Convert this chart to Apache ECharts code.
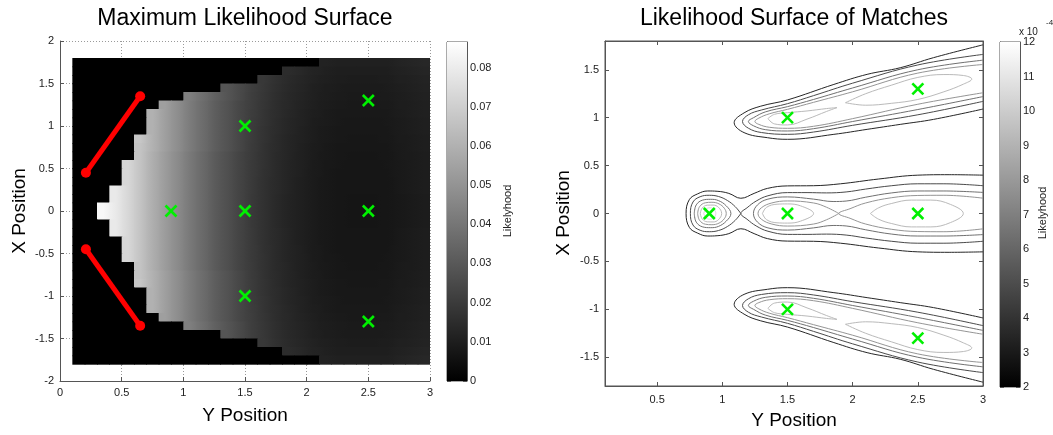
<!DOCTYPE html>
<html><head><meta charset="utf-8">
<script src="https://cdn.jsdelivr.net/npm/echarts@6/dist/echarts.min.js"></script>
<style>html,body{margin:0;padding:0;background:#fff}#c{width:1053px;height:435px}</style>
</head><body><div id="c"></div>
<script>
// ---------------- DATA ----------------
// Left panel: likelihood surface, cell centres (cells are 0.1 x 0.1), values in units of 1e-3
const heatX = [0.15,0.25,0.35,0.45,0.55,0.65,0.75,0.85,0.95,1.05,1.15,1.25,1.35,1.45,1.55,1.65,1.75,1.85,1.95,2.05,2.15,2.25,2.35,2.45,2.55,2.65,2.75,2.85,2.95];
const heatY = [1.75,1.65,1.55,1.45,1.35,1.25,1.15,1.05,0.95,0.85,0.75,0.65,0.55,0.45,0.35,0.25,0.15,0.05,
               -0.05,-0.15,-0.25,-0.35,-0.45,-0.55,-0.65,-0.75,-0.85,-0.95,-1.05,-1.15,-1.25,-1.35,-1.45,-1.55,-1.65,-1.75];
const heatRows = [
[0,0,0,0,0,0,0,0,0,0,0,0,0,0,0,0,0,0,0,0,11.5,10.9,10.7,10.7,10.7,10.9,11.8,12.4,13.1],
[0,0,0,0,0,0,0,0,0,0,0,0,0,0,0,0,0,14.9,13.4,11.9,10.9,10.3,10.1,10.1,10.1,10.3,11.2,11.8,12.5],
[0,0,0,0,0,0,0,0,0,0,0,0,0,0,0,18.9,16.4,14.4,12.9,11.4,10.4,9.8,9.6,9.6,9.6,9.8,10.7,11.3,12],
[0,0,0,0,0,0,0,0,0,0,0,0,29,25,21.5,18.5,16,14,12.5,11,10,9.4,9.2,9.2,9.2,9.4,10.3,10.9,11.6],
[0,0,0,0,0,0,0,0,0,43,38,33,29,25,21.2,18.2,15.7,13.7,12.2,10.7,9.7,9.1,8.9,8.9,8.9,9.1,10,10.6,11.3],
[0,0,0,0,0,0,0,54,48,42,37,32,28,24,20.9,17.9,15.4,13.4,11.9,10.4,9.4,8.8,8.6,8.6,8.6,8.8,9.7,10.3,11],
[0,0,0,0,0,0,60,54,48,42,37,32,28,24,20.7,17.7,15.2,13.2,11.7,10.2,9.2,8.6,8.4,8.4,8.4,8.6,9.5,10.1,10.8],
[0,0,0,0,0,0,60,54,48,42,37,32,28,24,20.5,17.5,15,13,11.5,10,9,8.4,8.2,8.2,8.2,8.4,9.3,9.9,10.6],
[0,0,0,0,0,0,60,54,48,42,37,32,28,24,20.3,17.3,14.8,12.8,11.3,9.8,8.8,8.2,8,8,8,8.2,9.1,9.7,10.4],
[0,0,0,0,0,67,60,54,48,42,37,32,28,24,20.2,17.2,14.7,12.7,11.2,9.7,8.7,8.1,7.9,7.9,7.9,8.1,9,9.6,10.3],
[0,0,0,0,0,66,60,54,48,42,37,32,28,24,20,17,14.5,12.5,11,9.5,8.5,7.9,7.7,7.7,7.7,7.9,8.8,9.4,10.1],
[0,0,0,0,0,66,59,53,47,41,36,31,27,23,19.9,16.9,14.4,12.4,10.9,9.4,8.4,7.8,7.6,7.6,7.6,7.8,8.7,9.3,10],
[0,0,0,0,73,66,59,53,47,41,36,31,27,23,19.8,16.8,14.3,12.3,10.8,9.3,8.3,7.7,7.5,7.5,7.5,7.7,8.6,9.2,9.9],
[0,0,0,0,73,66,59,53,47,41,36,31,27,23,19.7,16.7,14.2,12.2,10.7,9.2,8.2,7.6,7.4,7.4,7.4,7.6,8.5,9.1,9.8],
[0,0,0,0,73,66,59,53,47,41,36,31,27,23,19.6,16.6,14.1,12.1,10.6,9.1,8.1,7.5,7.3,7.3,7.3,7.5,8.4,9,9.7],
[0,0,0,79,73,66,59,53,47,41,36,31,27,23,19.6,16.6,14.1,12.1,10.6,9.1,8.1,7.5,7.3,7.3,7.3,7.5,8.4,9,9.7],
[0,0,0,79,73,66,59,53,47,41,36,31,27,23,19.5,16.5,14,12,10.5,9,8,7.4,7.2,7.2,7.2,7.4,8.3,8.9,9.6],
[0,0,84,79,73,66,59,53,47,41,36,31,27,23,19.5,16.5,14,12,10.5,9,8,7.4,7.2,7.2,7.2,7.4,8.3,8.9,9.6],
[0,0,84,79,73,66,59,53,47,41,36,31,27,23,19.5,16.5,14,12,10.5,9,8,7.4,7.2,7.2,7.2,7.4,8.3,8.9,9.6],
[0,0,0,79,73,66,59,53,47,41,36,31,27,23,19.5,16.5,14,12,10.5,9,8,7.4,7.2,7.2,7.2,7.4,8.3,8.9,9.6],
[0,0,0,79,73,66,59,53,47,41,36,31,27,23,19.6,16.6,14.1,12.1,10.6,9.1,8.1,7.5,7.3,7.3,7.3,7.5,8.4,9,9.7],
[0,0,0,0,73,66,59,53,47,41,36,31,27,23,19.6,16.6,14.1,12.1,10.6,9.1,8.1,7.5,7.3,7.3,7.3,7.5,8.4,9,9.7],
[0,0,0,0,73,66,59,53,47,41,36,31,27,23,19.7,16.7,14.2,12.2,10.7,9.2,8.2,7.6,7.4,7.4,7.4,7.6,8.5,9.1,9.8],
[0,0,0,0,73,66,59,53,47,41,36,31,27,23,19.8,16.8,14.3,12.3,10.8,9.3,8.3,7.7,7.5,7.5,7.5,7.7,8.6,9.2,9.9],
[0,0,0,0,0,66,59,53,47,41,36,31,27,23,19.9,16.9,14.4,12.4,10.9,9.4,8.4,7.8,7.6,7.6,7.6,7.8,8.7,9.3,10],
[0,0,0,0,0,66,60,54,48,42,37,32,28,24,20,17,14.5,12.5,11,9.5,8.5,7.9,7.7,7.7,7.7,7.9,8.8,9.4,10.1],
[0,0,0,0,0,67,60,54,48,42,37,32,28,24,20.2,17.2,14.7,12.7,11.2,9.7,8.7,8.1,7.9,7.9,7.9,8.1,9,9.6,10.3],
[0,0,0,0,0,0,60,54,48,42,37,32,28,24,20.3,17.3,14.8,12.8,11.3,9.8,8.8,8.2,8,8,8,8.2,9.1,9.7,10.4],
[0,0,0,0,0,0,60,54,48,42,37,32,28,24,20.5,17.5,15,13,11.5,10,9,8.4,8.2,8.2,8.2,8.4,9.3,9.9,10.6],
[0,0,0,0,0,0,60,54,48,42,37,32,28,24,20.7,17.7,15.2,13.2,11.7,10.2,9.2,8.6,8.4,8.4,8.4,8.6,9.5,10.1,10.8],
[0,0,0,0,0,0,0,54,48,42,37,32,28,24,20.9,17.9,15.4,13.4,11.9,10.4,9.4,8.8,8.6,8.6,8.6,8.8,9.7,10.3,11],
[0,0,0,0,0,0,0,0,0,43,38,33,29,25,21.2,18.2,15.7,13.7,12.2,10.7,9.7,9.1,8.9,8.9,8.9,9.1,10,10.6,11.3],
[0,0,0,0,0,0,0,0,0,0,0,0,29,25,21.5,18.5,16,14,12.5,11,10,9.4,9.2,9.2,9.2,9.4,10.3,10.9,11.6],
[0,0,0,0,0,0,0,0,0,0,0,0,0,0,0,18.9,16.4,14.4,12.9,11.4,10.4,9.8,9.6,9.6,9.6,9.8,10.7,11.3,12],
[0,0,0,0,0,0,0,0,0,0,0,0,0,0,0,0,0,14.9,13.4,11.9,10.9,10.3,10.1,10.1,10.1,10.3,11.2,11.8,12.5],
[0,0,0,0,0,0,0,0,0,0,0,0,0,0,0,0,0,0,0,0,11.5,10.9,10.7,10.7,10.7,10.9,11.8,12.4,13.1]
];
const heatUnit = 1e-3;
const heatMax = 0.0865;           // top of left colour bar
const leftBarTicks = [0,0.01,0.02,0.03,0.04,0.05,0.06,0.07,0.08];

// Sensor arrays (red segments)
const sensorUpper = [[0.21,0.45],[0.65,1.35]];
const sensorLower = [[0.21,-0.45],[0.65,-1.35]];

// Matches (green crosses)
const matchX = [0.9,1.5,1.5,1.5,2.5,2.5,2.5];
const matchY = [0,1,0,-1,1.3,0,-1.3];

// Right panel colour bar (x 1e-4)
const rightBarMin = 2, rightBarMax = 12;

// Contour lines of right panel, level index 1 (outer) .. 6 (inner)
const midL1 = [[3.0,0.40],[2.74,0.405],[2.5,0.40],[2.2,0.36],[1.907,0.31],[1.7,0.29],[1.5,0.288],[1.346,0.262],[1.244,0.21],[1.142,0.159],[1.05,0.21],[0.96,0.232],[0.888,0.235],[0.811,0.205],[0.747,0.145],[0.722,0],[0.747,-0.145],[0.811,-0.205],[0.888,-0.235],[0.96,-0.232],[1.05,-0.21],[1.142,-0.159],[1.244,-0.21],[1.346,-0.262],[1.5,-0.288],[1.7,-0.29],[1.907,-0.31],[2.2,-0.36],[2.5,-0.40],[2.74,-0.405],[3.0,-0.40]];
const midL2 = [[3.0,0.29],[2.7,0.31],[2.5,0.31],[2.3,0.29],[2.1,0.255],[1.95,0.225],[1.8,0.215],[1.65,0.218],[1.5,0.218],[1.35,0.185],[1.26,0.13],[1.19,0.06],[1.142,0],[1.19,-0.06],[1.26,-0.13],[1.35,-0.185],[1.5,-0.218],[1.65,-0.218],[1.8,-0.215],[1.95,-0.225],[2.1,-0.255],[2.3,-0.29],[2.5,-0.31],[2.7,-0.31],[3.0,-0.29]];
const bulbL2 = [[1.142,0],[1.10,0.07],[1.04,0.135],[0.97,0.178],[0.9,0.19],[0.83,0.175],[0.775,0.12],[0.755,0],[0.775,-0.12],[0.83,-0.175],[0.9,-0.19],[0.97,-0.178],[1.04,-0.135],[1.10,-0.07],[1.142,0]];
const midL3 = [[3.0,0.22],[2.7,0.235],[2.5,0.235],[2.3,0.215],[2.1,0.17],[1.95,0.13],[1.85,0.125],[1.7,0.15],[1.5,0.173],[1.35,0.15],[1.27,0.09],[1.239,0],[1.27,-0.09],[1.35,-0.15],[1.5,-0.173],[1.7,-0.15],[1.85,-0.125],[1.95,-0.13],[2.1,-0.17],[2.3,-0.215],[2.5,-0.235],[2.7,-0.235],[3.0,-0.22]];
const bulbL3 = [[0.785,0],[0.80,0.09],[0.85,0.14],[0.91,0.148],[0.97,0.135],[1.03,0.08],[1.066,0],[1.03,-0.08],[0.97,-0.135],[0.91,-0.148],[0.85,-0.14],[0.80,-0.09],[0.785,0]];
const midL4a = [[1.894,0],[1.8,0.065],[1.7,0.11],[1.5,0.131],[1.38,0.11],[1.3,0.06],[1.274,0],[1.3,-0.06],[1.38,-0.11],[1.5,-0.131],[1.7,-0.11],[1.8,-0.065],[1.894,0]];
const midL4b = [[3.0,0.16],[2.7,0.19],[2.5,0.188],[2.3,0.165],[2.1,0.11],[1.98,0.05],[1.894,0],[1.98,-0.05],[2.1,-0.11],[2.3,-0.165],[2.5,-0.188],[2.7,-0.19],[3.0,-0.16]];
const bulbL4 = [[0.811,0],[0.825,0.07],[0.87,0.112],[0.92,0.117],[0.975,0.1],[1.015,0.055],[1.03,0],[1.015,-0.055],[0.975,-0.1],[0.92,-0.117],[0.87,-0.112],[0.825,-0.07],[0.811,0]];
const midL5a = [[1.308,0],[1.34,0.065],[1.42,0.097],[1.5,0.10],[1.6,0.08],[1.70,0],[1.6,-0.08],[1.5,-0.10],[1.42,-0.097],[1.34,-0.065],[1.308,0]];
const midL5b = [[2.136,0],[2.2,0.06],[2.3,0.105],[2.45,0.14],[2.6,0.14],[2.75,0.095],[2.849,0],[2.75,-0.095],[2.6,-0.14],[2.45,-0.14],[2.3,-0.105],[2.2,-0.06],[2.136,0]];
const bulbL5 = [[0.831,0],[0.845,0.055],[0.885,0.087],[0.93,0.088],[0.97,0.065],[0.995,0],[0.97,-0.065],[0.93,-0.088],[0.885,-0.087],[0.845,-0.055],[0.831,0]];
const bulbL6 = [[0.857,0],[0.875,0.045],[0.905,0.06],[0.935,0.045],[0.95,0],[0.935,-0.045],[0.905,-0.06],[0.875,-0.045],[0.857,0]];

const topL1 = [[3.0,1.76],[2.62,1.626],[2.365,1.521],[2.111,1.452],[1.856,1.347],[1.5,1.185],[1.295,1.12],[1.167,1.05],[1.091,0.948],[1.167,0.844],[1.346,0.791],[1.5,0.774],[1.856,0.826],[2.111,0.878],[2.365,0.93],[2.62,0.982],[3.0,1.09]];
const topL2 = [[3.0,1.66],[2.5,1.55],[2.0,1.36],[1.7,1.23],[1.5,1.146],[1.3,1.08],[1.2,1.03],[1.155,0.96],[1.2,0.89],[1.3,0.845],[1.5,0.826],[1.7,0.85],[2.0,0.92],[2.5,1.03],[3.0,1.17]];
const topL3 = [[3.0,1.60],[2.5,1.50],[2.0,1.31],[1.7,1.19],[1.5,1.115],[1.33,1.06],[1.24,1.0],[1.2,0.96],[1.24,0.915],[1.33,0.875],[1.5,0.861],[1.7,0.885],[2.0,0.96],[2.5,1.085],[3.0,1.22]];
const topL4 = [[3.0,1.555],[2.5,1.465],[2.0,1.27],[1.7,1.16],[1.5,1.087],[1.36,1.04],[1.28,0.995],[1.25,0.96],[1.28,0.93],[1.36,0.9],[1.5,0.889],[1.7,0.91],[2.0,0.99],[2.5,1.14],[3.0,1.26]];
const topL5a = [[1.35,0.99],[1.4,1.035],[1.5,1.052],[1.65,1.07],[1.8,1.095],[1.88,1.105],[1.8,1.065],[1.65,0.985],[1.5,0.924],[1.4,0.935],[1.35,0.99]];
const topL5b = [[1.945,1.156],[2.1,1.25],[2.3,1.34],[2.5,1.42],[2.7,1.45],[2.85,1.44],[2.914,1.403],[2.85,1.35],[2.7,1.27],[2.5,1.19],[2.3,1.15],[2.1,1.13],[1.945,1.156]];

const botL1 = [[3.0,-1.76],[2.62,-1.626],[2.365,-1.521],[2.111,-1.452],[1.856,-1.347],[1.5,-1.185],[1.295,-1.12],[1.167,-1.05],[1.091,-0.948],[1.167,-0.844],[1.346,-0.791],[1.5,-0.774],[1.856,-0.826],[2.111,-0.878],[2.365,-0.93],[2.62,-0.982],[3.0,-1.09]];
const botL2 = [[3.0,-1.66],[2.5,-1.55],[2.0,-1.36],[1.7,-1.23],[1.5,-1.146],[1.3,-1.08],[1.2,-1.03],[1.155,-0.96],[1.2,-0.89],[1.3,-0.845],[1.5,-0.826],[1.7,-0.85],[2.0,-0.92],[2.5,-1.03],[3.0,-1.17]];
const botL3 = [[3.0,-1.60],[2.5,-1.50],[2.0,-1.31],[1.7,-1.19],[1.5,-1.115],[1.33,-1.06],[1.24,-1.0],[1.2,-0.96],[1.24,-0.915],[1.33,-0.875],[1.5,-0.861],[1.7,-0.885],[2.0,-0.96],[2.5,-1.085],[3.0,-1.22]];
const botL4 = [[3.0,-1.555],[2.5,-1.465],[2.0,-1.27],[1.7,-1.16],[1.5,-1.087],[1.36,-1.04],[1.28,-0.995],[1.25,-0.96],[1.28,-0.93],[1.36,-0.9],[1.5,-0.889],[1.7,-0.91],[2.0,-0.99],[2.5,-1.14],[3.0,-1.26]];
const botL5a = [[1.35,-0.99],[1.4,-1.035],[1.5,-1.052],[1.65,-1.07],[1.8,-1.095],[1.88,-1.105],[1.8,-1.065],[1.65,-0.985],[1.5,-0.924],[1.4,-0.935],[1.35,-0.99]];
const botL5b = [[1.945,-1.156],[2.1,-1.25],[2.3,-1.34],[2.5,-1.42],[2.7,-1.45],[2.85,-1.44],[2.914,-1.403],[2.85,-1.35],[2.7,-1.27],[2.5,-1.19],[2.3,-1.15],[2.1,-1.13],[1.945,-1.156]];

const contours = [
  {level:1, pts:midL1},{level:2, pts:midL2},{level:2, pts:bulbL2},{level:3, pts:midL3},{level:3, pts:bulbL3},
  {level:4, pts:midL4a},{level:4, pts:midL4b},{level:4, pts:bulbL4},{level:5, pts:midL5a},{level:5, pts:midL5b},
  {level:5, pts:bulbL5},{level:6, pts:bulbL6},
  {level:1, pts:topL1},{level:2, pts:topL2},{level:3, pts:topL3},{level:4, pts:topL4},{level:5, pts:topL5a},{level:5, pts:topL5b},
  {level:1, pts:botL1},{level:2, pts:botL2},{level:3, pts:botL3},{level:4, pts:botL4},{level:5, pts:botL5a},{level:5, pts:botL5b}
];
const levelColors = ['#262626','#4a4a4a','#707070','#959595','#bababa','#dcdcdc'];

// ---------------- BUILD ----------------
heatRows.forEach((r,i)=>{ if(r.length!==heatX.length) console.error('row length', i, r.length); });
const heatData = [];
heatRows.forEach((row,j)=>row.forEach((v,i)=>heatData.push([heatX[i], heatY[j], v*heatUnit, i, j])));
const cellHalf = (heatX[1]-heatX[0])/2;

function grayOf(v){
  const g = Math.max(0, Math.min(255, Math.round(v/heatMax*255)));
  return 'rgb('+g+','+g+','+g+')';
}
const matchData = matchX.map((x,i)=>[x, matchY[i]]);
function crossItem(params, api){
  const p = api.coord([api.value(0), api.value(1)]); const s = 5.5;
  const st = {stroke:'#00f000', lineWidth:2.6};
  return {type:'group', children:[
    {type:'line', shape:{x1:p[0]-s,y1:p[1]-s,x2:p[0]+s,y2:p[1]+s}, style:st},
    {type:'line', shape:{x1:p[0]-s,y1:p[1]+s,x2:p[0]+s,y2:p[1]-s}, style:st}]};
}
function barItem(params, api){
  const a = api.coord([0, api.value(0)]), b = api.coord([1, api.value(1)]);
  return {type:'rect', shape:{x:a[0], y:b[1], width:b[0]-a[0], height:a[1]-b[1]},
    style:{fill:new echarts.graphic.LinearGradient(0,0,0,1,[{offset:0,color:'#fff'},{offset:1,color:'#000'}])}};
}
function heatItem(params, api){
  const x=api.value(0), y=api.value(1), v=api.value(2), i=api.value(3), j=api.value(4);
  const a=api.coord([x-cellHalf, y+cellHalf]), b=api.coord([x+cellHalf, y-cellHalf]);
  const shape = {x:a[0], y:a[1], width:b[0]-a[0]+0.7, height:b[1]-a[1]+0.7};
  if (v === 0) return {type:'rect', shape:shape, style:{fill:'#000'}};
  const row = heatRows[j];
  const vl = (i>0 && row[i-1]>0) ? (row[i-1]*heatUnit+v)/2 : v;
  const vr = (i<row.length-1 && row[i+1]>0) ? (row[i+1]*heatUnit+v)/2 : v;
  return {type:'rect', shape:shape, style:{fill:new echarts.graphic.LinearGradient(0,0,1,0,[
    {offset:0,color:grayOf(vl)},{offset:0.5,color:grayOf(v)},{offset:1,color:grayOf(vr)}])}};
}

const FONT = '"Liberation Sans", Arial, Helvetica, sans-serif';
const lblStyle = {fontFamily:FONT, fontSize:11, color:'#222'};
const axLine = {show:true, onZero:false, lineStyle:{color:'#555', width:1}};
const inTick = {show:true, inside:true, length:4, lineStyle:{color:'#555'}};
const dotted = {show:true, lineStyle:{color:'#9a9a9a', type:[1,2], width:1}};
const rx = [0.5,1,1.5,2,2.5,3];
const ry = [-1.5,-1,-0.5,0,0.5,1,1.5];

const series = [];
series.push({type:'custom', xAxisIndex:0, yAxisIndex:0, clip:true, z:1, data:heatData, renderItem:heatItem});
[sensorUpper, sensorLower].forEach(d=>series.push({type:'line', xAxisIndex:0, yAxisIndex:0, data:d, z:3,
  symbol:'circle', symbolSize:10, showSymbol:true, itemStyle:{color:'#ff0000'}, lineStyle:{color:'#ff0000', width:5}}));
series.push({type:'custom', xAxisIndex:0, yAxisIndex:0, z:4, data:matchData, renderItem:crossItem});
contours.forEach(c=>series.push({type:'line', xAxisIndex:1, yAxisIndex:1, data:c.pts, z:2, smooth:0.4,
  showSymbol:false, symbol:'none', lineStyle:{color:levelColors[c.level-1], width:1}}));
series.push({type:'custom', xAxisIndex:1, yAxisIndex:1, z:4, data:matchData, renderItem:crossItem});
series.push({type:'custom', xAxisIndex:3, yAxisIndex:3, data:[[0, heatMax]], renderItem:barItem});
series.push({type:'custom', xAxisIndex:4, yAxisIndex:5, data:[[rightBarMin, rightBarMax]], renderItem:barItem});

const option = {
  animation:false,
  backgroundColor:'#fff',
  grid:[
    {left:60, top:41, width:370, height:340},
    {left:605, top:41, width:378, height:345, show:true, borderColor:'#555', borderWidth:1, backgroundColor:'#fff'},
    {left:447, top:42, width:20, height:339, show:true, borderColor:'#555', borderWidth:1},
    {left:1000, top:42, width:20, height:345, show:true, borderColor:'#555', borderWidth:1}
  ],
  xAxis:[
    {gridIndex:0, type:'value', min:0, max:3, interval:0.5, axisLine:axLine, axisTick:inTick,
      axisLabel:Object.assign({margin:6}, lblStyle), splitLine:dotted},
    {gridIndex:1, type:'value', min:0.1, max:3, axisLine:axLine,
      axisTick:Object.assign({customValues:rx}, inTick), axisLabel:Object.assign({margin:8, customValues:rx}, lblStyle), splitLine:{show:false}},
    {gridIndex:1, type:'value', position:'top', min:0.1, max:3, axisLine:axLine,
      axisTick:Object.assign({customValues:rx}, inTick), axisLabel:{show:false}, splitLine:{show:false}},
    {gridIndex:2, type:'value', min:0, max:1, show:false},
    {gridIndex:3, type:'value', min:0, max:1, show:false}
  ],
  yAxis:[
    {gridIndex:0, type:'value', min:-2, max:2, interval:0.5, axisLine:axLine, axisTick:inTick,
      axisLabel:Object.assign({margin:6}, lblStyle), splitLine:dotted},
    {gridIndex:1, type:'value', min:-1.8, max:1.8, axisLine:axLine,
      axisTick:Object.assign({customValues:ry}, inTick), axisLabel:Object.assign({margin:6, customValues:ry}, lblStyle), splitLine:{show:false}},
    {gridIndex:1, type:'value', position:'right', min:-1.8, max:1.8, axisLine:axLine,
      axisTick:Object.assign({customValues:ry}, inTick), axisLabel:{show:false}, splitLine:{show:false}},
    {gridIndex:2, type:'value', position:'right', min:0, max:heatMax, axisLine:axLine,
      axisTick:Object.assign({customValues:leftBarTicks}, inTick),
      axisLabel:Object.assign({margin:3, customValues:leftBarTicks, formatter:v=>v===0?'0':v.toFixed(2)}, lblStyle), splitLine:{show:false}},
    {gridIndex:2, type:'value', position:'left', min:0, max:heatMax, axisLine:axLine,
      axisTick:Object.assign({customValues:leftBarTicks}, inTick), axisLabel:{show:false}, splitLine:{show:false}},
    {gridIndex:3, type:'value', position:'right', min:rightBarMin, max:rightBarMax, interval:1, axisLine:axLine,
      axisTick:inTick, axisLabel:Object.assign({margin:3}, lblStyle), splitLine:{show:false}},
    {gridIndex:3, type:'value', position:'left', min:rightBarMin, max:rightBarMax, interval:1, axisLine:axLine,
      axisTick:inTick, axisLabel:{show:false}, splitLine:{show:false}}
  ],
  graphic:[
    {type:'text', x:245, y:19, style:{text:'Maximum Likelihood Surface', font:'23px '+FONT, fill:'#000', align:'center', verticalAlign:'middle'}},
    {type:'text', x:794, y:19, style:{text:'Likelihood Surface of Matches', font:'23px '+FONT, fill:'#000', align:'center', verticalAlign:'middle'}},
    {type:'text', x:245, y:416, style:{text:'Y Position', font:'19px '+FONT, fill:'#000', align:'center', verticalAlign:'middle'}},
    {type:'text', x:794, y:421, style:{text:'Y Position', font:'19px '+FONT, fill:'#000', align:'center', verticalAlign:'middle'}},
    {type:'text', x:20, y:211, rotation:Math.PI/2, style:{text:'X Position', font:'19px '+FONT, fill:'#000', align:'center', verticalAlign:'middle'}},
    {type:'text', x:564, y:213, rotation:Math.PI/2, style:{text:'X Position', font:'19px '+FONT, fill:'#000', align:'center', verticalAlign:'middle'}},
    {type:'text', x:508, y:211, rotation:Math.PI/2, style:{text:'Likelyhood', font:'11px '+FONT, fill:'#222', align:'center', verticalAlign:'middle'}},
    {type:'text', x:1043, y:213, rotation:Math.PI/2, style:{text:'Likelyhood', font:'11px '+FONT, fill:'#222', align:'center', verticalAlign:'middle'}},
    {type:'text', x:1019, y:32, style:{text:'x 10', font:'10px '+FONT, fill:'#222', align:'left', verticalAlign:'middle'}},
    {type:'text', x:1046, y:23, style:{text:'-4', font:'8px '+FONT, fill:'#222', align:'left', verticalAlign:'middle'}}
  ],
  series:series
};
const chart = echarts.init(document.getElementById('c'));
chart.setOption(option);
</script></body></html>
